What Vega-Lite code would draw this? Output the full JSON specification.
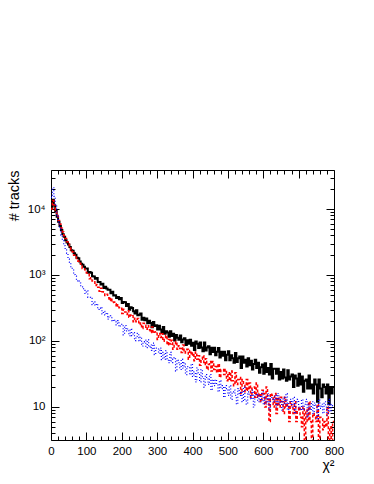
{
  "$schema": "https://vega.github.io/schema/vega-lite/v6.json",
  "autosize": "none",
  "width": 283,
  "height": 270,
  "padding": {"left": 51, "top": 170, "right": 40, "bottom": 44},
  "background": "white",
  "config": {
    "view": {"stroke": "black", "strokeWidth": 1},
    "axis": {"grid": false, "domain": false, "tickColor": "black", "labelColor": "black", "titleColor": "black", "labelFont": "Liberation Sans", "titleFont": "Liberation Sans", "labelFontSize": 11.5, "titleFontWeight": "normal", "labelFlush": false, "labelOverlap": false}
  },
  "data": {"values": [
{"x":0,"k":10500,"r":10000,"b":15000},{"x":4,"k":13800,"r":13500,"b":21000},{"x":8,"k":11300,"r":11520,"b":15500},{"x":12,"k":9290,"r":9550,"b":11360},{"x":16,"k":7620,"r":8000,"b":7750},{"x":20,"k":6390,"r":6710,"b":6390},{"x":24,"k":5540,"r":5950,"b":5010},{"x":28,"k":4800,"r":5110,"b":4030},{"x":32,"k":4150,"r":4480,"b":3390},{"x":36,"k":3800,"r":3940,"b":2775},
{"x":40,"k":3360,"r":3570,"b":2415},{"x":44,"k":3120,"r":3190,"b":2130},{"x":48,"k":2900,"r":2920,"b":1740},{"x":52,"k":2650,"r":2560,"b":1570},{"x":56,"k":2380,"r":2400,"b":1295},{"x":60,"k":2340,"r":2240,"b":1235},{"x":64,"k":2140,"r":2000,"b":1015},{"x":68,"k":2025,"r":1930,"b":965},{"x":72,"k":1830,"r":1680,"b":815},{"x":76,"k":1800,"r":1620,"b":832},
{"x":80,"k":1600,"r":1510,"b":756},{"x":84,"k":1475,"r":1370,"b":664},{"x":88,"k":1430,"r":1260,"b":663},{"x":92,"k":1335,"r":1235,"b":583},{"x":96,"k":1255,"r":1100,"b":525},{"x":100,"k":1260,"r":1070,"b":578},{"x":104,"k":1085,"r":1070,"b":457},{"x":108,"k":1115,"r":880,"b":459},{"x":112,"k":1085,"r":905,"b":443},{"x":116,"k":960,"r":810,"b":354},
{"x":120,"k":950,"r":815,"b":392},{"x":124,"k":875,"r":695,"b":345},{"x":128,"k":900,"r":715,"b":366},{"x":132,"k":780,"r":655,"b":301},{"x":136,"k":785,"r":565,"b":312},{"x":140,"k":720,"r":630,"b":327},{"x":144,"k":740,"r":555,"b":257},{"x":148,"k":635,"r":553,"b":281},{"x":152,"k":665,"r":490,"b":248},{"x":156,"k":625,"r":510,"b":267},
{"x":160,"k":597,"r":454,"b":214},{"x":164,"k":598,"r":410,"b":233},{"x":168,"k":530,"r":450,"b":241},{"x":172,"k":555,"r":384,"b":198},{"x":176,"k":490,"r":389,"b":211},{"x":180,"k":492,"r":367,"b":195},{"x":184,"k":447,"r":328,"b":176},{"x":188,"k":464,"r":355,"b":203},{"x":192,"k":430,"r":318,"b":165},{"x":196,"k":450,"r":322,"b":173},
{"x":200,"k":376,"r":260,"b":179},{"x":204,"k":390,"r":302,"b":124},{"x":208,"k":385,"r":275,"b":171},{"x":212,"k":338,"r":253,"b":142},{"x":216,"k":365,"r":288,"b":152},{"x":220,"k":298,"r":228,"b":120},{"x":224,"k":325,"r":247,"b":152},{"x":228,"k":317,"r":250,"b":121},{"x":232,"k":283,"r":195,"b":134},{"x":236,"k":262,"r":222,"b":101},
{"x":240,"k":292,"r":196,"b":118},{"x":244,"k":245,"r":219,"b":131},{"x":248,"k":249,"r":178,"b":99},{"x":252,"k":260,"r":188,"b":115},{"x":256,"k":210,"r":155,"b":84},{"x":260,"k":225,"r":186,"b":97},{"x":264,"k":207,"r":173,"b":103},{"x":268,"k":219,"r":150,"b":79},{"x":272,"k":186,"r":170,"b":104},{"x":276,"k":202,"r":148,"b":81},
{"x":280,"k":187,"r":135,"b":87},{"x":284,"k":162,"r":163,"b":72},{"x":288,"k":194,"r":131,"b":93},{"x":292,"k":168,"r":137,"b":62},{"x":296,"k":173,"r":138,"b":78},{"x":300,"k":149,"r":105,"b":78},{"x":304,"k":170,"r":130,"b":65},{"x":308,"k":149,"r":113,"b":78},{"x":312,"k":132,"r":129,"b":52},{"x":316,"k":163,"r":99,"b":67},
{"x":320,"k":129,"r":108,"b":53},{"x":324,"k":141,"r":121,"b":71},{"x":328,"k":135,"r":87,"b":54},{"x":332,"k":116,"r":105,"b":47},{"x":336,"k":140,"r":90,"b":67},{"x":340,"k":119,"r":103,"b":47},{"x":344,"k":129,"r":75,"b":53},{"x":348,"k":102,"r":90,"b":56},{"x":352,"k":123,"r":98,"b":35},{"x":356,"k":112,"r":75,"b":52},
{"x":360,"k":104,"r":85,"b":47},{"x":364,"k":121,"r":77,"b":37},{"x":368,"k":96,"r":67,"b":53},{"x":372,"k":105,"r":87,"b":39},{"x":376,"k":110,"r":66,"b":47},{"x":380,"k":87,"r":73,"b":31},{"x":384,"k":103,"r":75,"b":41},{"x":388,"k":91,"r":53,"b":41},{"x":392,"k":104,"r":72,"b":31},{"x":396,"k":85,"r":61,"b":45},
{"x":400,"k":94,"r":66,"b":29},{"x":404,"k":73,"r":50,"b":34},{"x":408,"k":98,"r":68,"b":24},{"x":412,"k":91,"r":53,"b":39},{"x":416,"k":78,"r":60,"b":32},{"x":420,"k":95,"r":43,"b":24},{"x":424,"k":80,"r":53,"b":37},{"x":428,"k":70,"r":60,"b":27},{"x":432,"k":95,"r":44,"b":20},{"x":436,"k":72,"r":54,"b":31},
{"x":440,"k":80,"r":37,"b":28},{"x":444,"k":83,"r":44,"b":22},{"x":448,"k":63,"r":49,"b":31},{"x":452,"k":79,"r":35,"b":18},{"x":456,"k":68,"r":49,"b":26},{"x":460,"k":79,"r":37,"b":21},{"x":464,"k":61,"r":41,"b":26},{"x":468,"k":69,"r":33,"b":22},{"x":472,"k":78,"r":45,"b":17},{"x":476,"k":56,"r":28,"b":25},
{"x":480,"k":69,"r":37,"b":19},{"x":484,"k":60,"r":37,"b":21},{"x":488,"k":69,"r":31,"b":14},{"x":492,"k":51,"r":37,"b":21},{"x":496,"k":62,"r":25,"b":19},{"x":500,"k":70,"r":33,"b":15},{"x":504,"k":51,"r":25,"b":21},{"x":508,"k":61,"r":35,"b":13},{"x":512,"k":55,"r":25,"b":17},{"x":516,"k":47,"r":21,"b":18},
{"x":520,"k":66,"r":33,"b":15},{"x":524,"k":48,"r":22,"b":11},{"x":528,"k":55,"r":26,"b":19},{"x":532,"k":58,"r":28,"b":15},{"x":536,"k":39,"r":16,"b":17},{"x":540,"k":58,"r":26,"b":12},{"x":544,"k":47,"r":22,"b":20},{"x":548,"k":52,"r":17,"b":13},{"x":552,"k":41,"r":26,"b":11},{"x":556,"k":55,"r":18,"b":17},
{"x":560,"k":43,"r":23,"b":15},{"x":564,"k":50,"r":14,"b":13},{"x":568,"k":37,"r":20,"b":18},{"x":572,"k":45,"r":20,"b":10},{"x":576,"k":52,"r":14,"b":15},{"x":580,"k":39,"r":23,"b":16},{"x":584,"k":47,"r":14,"b":12},{"x":588,"k":33,"r":16,"b":15},{"x":592,"k":40,"r":12,"b":12},{"x":596,"k":44,"r":18,"b":17},
{"x":600,"k":32,"r":16,"b":11},{"x":604,"k":46,"r":10,"b":14},{"x":608,"k":34,"r":20,"b":11},{"x":612,"k":39,"r":13,"b":16},{"x":616,"k":31,"r":6,"b":9},{"x":620,"k":45,"r":16,"b":14},{"x":624,"k":27,"r":15,"b":13},{"x":628,"k":38,"r":10,"b":12},{"x":632,"k":38,"r":16,"b":15},{"x":636,"k":32,"r":8,"b":10},
{"x":640,"k":38,"r":14,"b":16},{"x":644,"k":26,"r":10,"b":11},{"x":648,"k":34,"r":14,"b":13},{"x":652,"k":27,"r":12,"b":9},{"x":656,"k":37,"r":8,"b":14},{"x":660,"k":28,"r":14,"b":11},{"x":664,"k":25,"r":10,"b":16},{"x":668,"k":36,"r":11,"b":9},{"x":672,"k":26,"r":6,"b":12},{"x":676,"k":29,"r":12,"b":13},
{"x":680,"k":31,"r":10,"b":10},{"x":684,"k":20,"r":8,"b":14},{"x":688,"k":30,"r":12,"b":8},{"x":692,"k":27,"r":6,"b":12},{"x":696,"k":21,"r":9,"b":13},{"x":700,"k":32,"r":10,"b":10},{"x":704,"k":22,"r":7,"b":9},{"x":708,"k":29,"r":5,"b":13},{"x":712,"k":17,"r":10,"b":9},{"x":716,"k":25,"r":2,"b":11},
{"x":720,"k":26,"r":9,"b":13},{"x":724,"k":19,"r":6,"b":7},{"x":728,"k":30,"r":12,"b":11},{"x":732,"k":19,"r":6,"b":9},{"x":736,"k":22,"r":2,"b":12},{"x":740,"k":16,"r":8,"b":8},{"x":744,"k":26,"r":7,"b":11.5},{"x":748,"k":22,"r":6,"b":10},{"x":752,"k":12,"r":11,"b":6.5},{"x":756,"k":26,"r":1,"b":13},
{"x":760,"k":19,"r":7,"b":9.5},{"x":764,"k":14,"r":7,"b":11},{"x":768,"k":22,"r":4.5,"b":8},{"x":772,"k":20,"r":6,"b":12},{"x":776,"k":16,"r":5,"b":10},{"x":780,"k":22,"r":10,"b":7.5},{"x":784,"k":11,"r":2,"b":13},{"x":788,"k":20,"r":5,"b":8.5},{"x":792,"k":16,"r":1,"b":11},{"x":796,"k":20,"r":6,"b":10.5},
{"x":800,"k":20,"r":6,"b":10.5}
  ]},
  "resolve": {"axis": {"x": "independent", "y": "independent"}},
  "layer": [
    {
      "mark": {"type": "line", "interpolate": "step-after", "color": "#000000", "strokeWidth": 2, "clip": true},
      "encoding": {
        "x": {"field": "x", "type": "quantitative", "scale": {"domain": [0, 800], "nice": false},
              "axis": {"orient": "bottom", "values": [0,100,200,300,400,500,600,700,800], "tickSize": -8, "labelPadding": 13, "title": "χ²", "titleAnchor": "end", "titleFontSize": 14, "titlePadding": 2}},
        "y": {"field": "k", "type": "quantitative", "scale": {"type": "log", "domain": [3.16, 39000], "nice": false},
              "axis": {"orient": "left", "values": [10,100,1000,10000], "tickSize": -8, "labelPadding": 14, "labelExpr": "datum.value == 10 ? '10' : datum.value == 100 ? '10²' : datum.value == 1000 ? '10³' : '10⁴'", "title": "# tracks", "titleAnchor": "end", "titleFontSize": 14.5, "titlePadding": 6}}
      }
    },
    {
      "mark": {"type": "line", "interpolate": "step-after", "color": "#ff0000", "strokeWidth": 1.5, "strokeDash": [3, 2], "clip": true},
      "encoding": {
        "x": {"field": "x", "type": "quantitative", "scale": {"domain": [0, 800], "nice": false},
              "axis": {"orient": "bottom", "values": [20,40,60,80,120,140,160,180,220,240,260,280,320,340,360,380,420,440,460,480,520,540,560,580,620,640,660,680,720,740,760,780], "tickSize": -4, "labels": false, "title": null}},
        "y": {"field": "r", "type": "quantitative", "scale": {"type": "log", "domain": [3.16, 39000], "nice": false},
              "axis": {"orient": "left", "values": [4,5,6,7,8,9,20,30,40,50,60,70,80,90,200,300,400,500,600,700,800,900,2000,3000,4000,5000,6000,7000,8000,9000,20000,30000], "tickSize": -4, "labels": false, "title": null}}
      }
    },
    {
      "mark": {"type": "line", "interpolate": "step-after", "color": "#0000ff", "strokeWidth": 1.2, "strokeDash": [1, 2], "clip": true},
      "encoding": {
        "x": {"field": "x", "type": "quantitative", "scale": {"domain": [0, 800], "nice": false},
              "axis": {"orient": "top", "values": [0,100,200,300,400,500,600,700,800], "tickSize": -8, "labels": false, "title": null}},
        "y": {"field": "b", "type": "quantitative", "scale": {"type": "log", "domain": [3.16, 39000], "nice": false},
              "axis": {"orient": "right", "values": [10,100,1000,10000], "tickSize": -8, "labels": false, "title": null}}
      }
    },
    {
      "mark": {"type": "line", "interpolate": "step-after", "color": "#000000", "opacity": 0, "clip": true},
      "encoding": {
        "x": {"field": "x", "type": "quantitative", "scale": {"domain": [0, 800], "nice": false},
              "axis": {"orient": "top", "values": [20,40,60,80,120,140,160,180,220,240,260,280,320,340,360,380,420,440,460,480,520,540,560,580,620,640,660,680,720,740,760,780], "tickSize": -4, "labels": false, "title": null}},
        "y": {"field": "k", "type": "quantitative", "scale": {"type": "log", "domain": [3.16, 39000], "nice": false},
              "axis": {"orient": "right", "values": [4,5,6,7,8,9,20,30,40,50,60,70,80,90,200,300,400,500,600,700,800,900,2000,3000,4000,5000,6000,7000,8000,9000,20000,30000], "tickSize": -4, "labels": false, "title": null}}
      }
    }
  ]
}
